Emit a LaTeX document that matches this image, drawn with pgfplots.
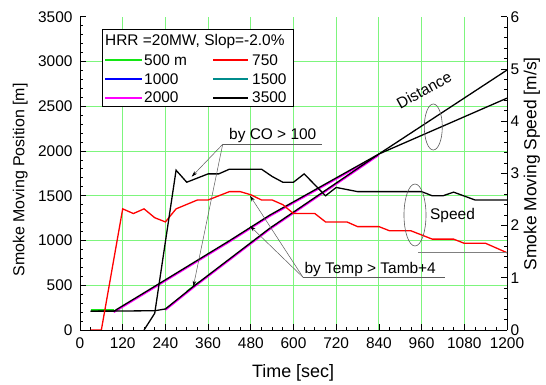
\documentclass[border=0pt]{standalone}
\usepackage{pgfplots}
\pgfplotsset{compat=1.18}
\usepackage{fontspec}
\setmainfont{Liberation Sans}
\usetikzlibrary{arrows.meta}

\definecolor{gridgreen}{RGB}{125,245,125}
\definecolor{lgreen}{RGB}{20,230,20}
\definecolor{tealc}{RGB}{0,140,140}
\definecolor{magc}{RGB}{255,0,255}
\definecolor{bluec}{RGB}{0,0,255}
\definecolor{redc}{RGB}{255,0,0}
\definecolor{anng}{RGB}{90,90,90}

\newcommand{\fs}[1]{\fontsize{#1}{#1}\selectfont}

\pgfplotsset{
  common/.style={
    at={(80bp,55bp)}, anchor=south west, scale only axis,
    width=427bp, height=313.3bp,
    xmin=0, xmax=1200,
    tick align=inside, major tick length=6bp, minor tick length=3.5bp,
    tick style={black, line width=0.8bp},
    axis line style={line width=0.9bp},
    scaled ticks=false,
    /pgf/number format/assume math mode=true,
    /pgf/number format/1000 sep={},
    tick label style={font=\fs{15.5}},
  }
}

\begin{document}
\begin{tikzpicture}
\begin{axis}[common,
  ymin=0, ymax=3500,
  axis x line*=bottom, axis y line*=left,
  xtick={0,120,...,1200},
  minor xtick={0,30,...,1200},
  ytick={0,500,...,3000},
  extra y ticks={3500}, extra y tick style={grid=none},
  minor ytick={0,100,...,3500},
  grid=major, major grid style={gridgreen, line width=0.9bp},
  xticklabel style={yshift=-4bp},
  yticklabel style={xshift=-4bp},
  xlabel={Time [sec]},
  xlabel style={font=\fs{18}, at={(axis description cs:0.499,-0.153)}, anchor=base},
  ylabel={Smoke Moving Position [m]},
  ylabel style={font=\fs{16}, at={(axis description cs:-0.14,0.479)}, anchor=center},
]
% green (500 m) visible bits
\addplot[lgreen, line width=1.6bp, transform canvas={yshift=1bp}] coordinates {(30,210) (95,210)};
\addplot[lgreen, line width=1.6bp] coordinates {(300,430) (335,535)};
% magenta (2000) under the black lines
\addplot[magc, line width=1.4bp, transform canvas={yshift=-1.2bp}] coordinates {(95,210) (215,500) (421,1000) (534,1285) (840,1966)};
\addplot[magc, line width=1.4bp, transform canvas={yshift=-1.2bp}] coordinates {(240,235) (318,484) (534,1139) (840,1966)};
% distance lines (black, 3500)
\addplot[black, line width=1.3bp] coordinates {(30,210) (95,210) (215,500) (421,1000) (534,1285) (840,1966) (1200,2590)};
\addplot[black, line width=1.3bp] coordinates {(30,210) (210,215) (240,235) (318,484) (534,1139) (840,1966) (1200,2904)};
\end{axis}

\begin{axis}[common,
  ymin=0, ymax=6,
  axis x line=none, axis y line*=right,
  ytick={0,1,...,6},
  minor ytick={0,0.2,...,6},
  ylabel={Smoke Moving Speed [m/s]},
  ylabel style={font=\fs{17.5}, at={(axis description cs:1.0585,0.53)}, anchor=center, rotate=0},
]
\addplot[redc, line width=1.3bp] coordinates {
(30,0) (60,0) (120,2.32) (150,2.23) (180,2.32) (210,2.15) (240,2.07) (270,2.32)
(330,2.49) (360,2.49) (420,2.65) (450,2.65) (480,2.59) (510,2.49) (540,2.49)
(570,2.40) (600,2.23) (660,2.23) (690,2.07) (750,2.07) (780,1.98) (840,1.98)
(870,1.90) (930,1.90) (990,1.74) (1050,1.74) (1080,1.66) (1140,1.66) (1200,1.48)};
\addplot[black, line width=1.3bp] coordinates {
(180,0) (210,0.32) (270,3.06) (300,2.83) (360,2.99) (390,2.99) (420,3.08)
(510,3.08) (540,2.94) (570,2.83) (600,2.83) (630,2.99) (690,2.57) (720,2.73)
(780,2.65) (960,2.65) (990,2.57) (1020,2.57) (1050,2.64) (1110,2.49) (1200,2.49)};
\end{axis}

\begin{scope}[x=1bp, y=-1bp, shift={(0,385bp)}]
  % legend
  \draw[line width=0.8bp, fill=white] (102,29) rectangle (293,106);
  \node[anchor=base west, inner sep=0, font=\fs{15.5}] at (105,46) {HRR =20MW, Slop=-2.0\%};
  \draw[lgreen, line width=1.8bp] (105,60) -- (141.7,60);
  \node[anchor=base west, inner sep=0, font=\fs{15.5}] at (144,65.3) {500 m};
  \draw[redc, line width=1.8bp] (213,60) -- (248,60);
  \node[anchor=base west, inner sep=0, font=\fs{15.5}] at (252,65.3) {750};
  \draw[bluec, line width=1.8bp] (105,79) -- (141.7,79);
  \node[anchor=base west, inner sep=0, font=\fs{15.5}] at (144,84.3) {1000};
  \draw[tealc, line width=1.8bp] (213,79) -- (248,79);
  \node[anchor=base west, inner sep=0, font=\fs{15.5}] at (252,84.3) {1500};
  \draw[magc, line width=1.8bp] (105,97.7) -- (141.7,97.7);
  \node[anchor=base west, inner sep=0, font=\fs{15.5}] at (144,103) {2000};
  \draw[black, line width=1.8bp] (213,97.7) -- (248,97.7);
  \node[anchor=base west, inner sep=0, font=\fs{15.5}] at (252,103) {3500};
  % annotations
  \tikzset{arr/.style={anng, line width=0.5bp, -{Stealth[length=6bp,width=3.5bp,black]}}}
  \draw[anng, line width=0.6bp] (222.7,144.3) -- (321.7,144.3);
  \node[anchor=base west, inner sep=0, font=\fs{15.5}] at (229,140) {by CO > 100};
  \draw[arr] (222.7,144.3) -- (191.7,176.7);
  \draw[arr] (222.7,144.3) -- (193.3,286.7);
  \draw[anng, line width=0.6bp] (303,277.3) -- (445,277.3);
  \node[anchor=base west, inner sep=0, font=\fs{15.5}] at (304.3,273.3) {by Temp > Tamb+4};
  \draw[arr] (303,277.3) -- (250,195.7);
  \draw[arr] (303,277.3) -- (250,226);
  \node[rotate=28.7, inner sep=0, font=\fs{15.5}] at (424,90) {Distance};
  \draw[anng, line width=0.6bp] (433.3,127) ellipse [x radius=9bp, y radius=23bp];
  \node[anchor=base west, inner sep=0, font=\fs{15.5}] at (430,220) {Speed};
  \draw[anng, line width=0.6bp] (415,215) ellipse [x radius=11bp, y radius=31bp];
  \draw[gray, line width=0.8bp] (418,252.7) -- (507,252.7);
\end{scope}

\pgfresetboundingbox
\useasboundingbox (0,0) rectangle (546bp,385bp);
\end{tikzpicture}
\end{document}
